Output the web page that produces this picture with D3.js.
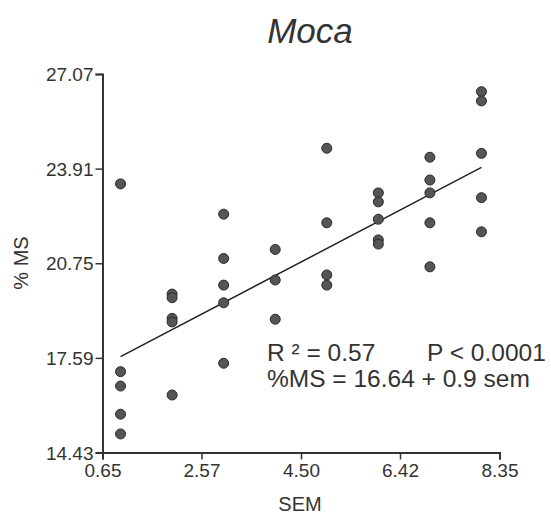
<!DOCTYPE html>
<html>
<head>
<meta charset="utf-8">
<script src="https://cdn.jsdelivr.net/npm/d3@7"></script>
<style>
  html, body { margin: 0; padding: 0; background: #fff; }
  svg { display: block; }
  text { font-family: "Liberation Sans", Arial, sans-serif; fill: #333; }
</style>
</head>
<body>
<svg id="chart" width="551" height="514"></svg>
<script>
// ---- data ----
const semValues = [1,1,1,1,1, 2,2,2,2,2, 3,3,3,3,3, 4,4,4, 5,5,5,5, 6,6,6,6,6, 7,7,7,7,7, 8,8,8,8,8];
const msValues  = [23.40,17.13,16.65,15.71,15.05,
                   19.72,19.60,18.91,18.79,16.35,
                   22.39,20.91,20.02,19.43,17.41,
                   21.21,20.19,18.88,
                   24.59,22.10,20.36,20.02,
                   23.10,22.80,22.22,21.53,21.39,
                   24.29,23.53,23.10,22.10,20.63,
                   26.48,26.17,24.42,22.94,21.80];
const fitX = [1, 8];
const fitY = [17.63, 23.95];
const xTicks = [0.65, 2.57, 4.50, 6.42, 8.35];
const yTicks = [14.43, 17.59, 20.75, 23.91, 27.07];
const titleText = "Moca";
const xLabel = "SEM";
const yLabel = "% MS";
const statR2 = "R \u00B2 = 0.57";
const statP = "P < 0.0001";
const statEq = "%MS = 16.64 + 0.9 sem";

// ---- chart ----
const svg = d3.select("#chart");
const x = d3.scaleLinear().domain([0.65, 8.35]).range([102.5, 499.5]);
const y = d3.scaleLinear().domain([14.43, 27.07]).range([452.5, 74]);

const xAxis = svg.append("g").attr("transform", `translate(0,${y(14.43)})`)
  .call(d3.axisBottom(x).tickValues(xTicks).tickFormat(d3.format(".2f")).tickSizeOuter(0).tickSize(7).tickPadding(4));
const yAxis = svg.append("g").attr("transform", `translate(${x(0.65)},0)`)
  .call(d3.axisLeft(y).tickValues(yTicks).tickFormat(d3.format(".2f")).tickSizeOuter(0).tickSize(7).tickPadding(2));

[xAxis, yAxis].forEach(g => {
  g.select(".domain").attr("stroke", "#333").attr("stroke-width", 2);
  g.selectAll(".tick line").attr("stroke", "#333").attr("stroke-width", 1.5);
  g.selectAll(".tick text").attr("font-size", 19).attr("fill", "#333")
    .attr("font-family", "'Liberation Sans', Arial, sans-serif");
});
yAxis.selectAll(".tick text").attr("dy", "0.35em");

// regression line
svg.append("line")
  .attr("x1", x(fitX[0])).attr("y1", y(fitY[0]))
  .attr("x2", x(fitX[1])).attr("y2", y(fitY[1]))
  .attr("stroke", "#222").attr("stroke-width", 1.5);

// points
svg.append("g").selectAll("circle")
  .data(semValues.map((s, i) => ({s, m: msValues[i]})))
  .join("circle")
  .attr("cx", d => x(d.s)).attr("cy", d => y(d.m)).attr("r", 5)
  .attr("fill", "#555").attr("stroke", "#2a2a2a").attr("stroke-width", 1);

// title
svg.append("text").attr("x", 310).attr("y", 43).attr("text-anchor", "middle")
  .attr("font-size", 35).attr("font-style", "italic").attr("fill", "#222").text(titleText);

// axis labels
svg.append("text").attr("x", 300).attr("y", 511).attr("text-anchor", "middle")
  .attr("font-size", 20).text(xLabel);
svg.append("text").attr("transform", "translate(28,263) rotate(-90)").attr("text-anchor", "middle")
  .attr("font-size", 20).text(yLabel);

// stats
const s1 = svg.append("text").attr("y", 361).attr("font-size", 24.5).attr("fill", "#222");
s1.append("tspan").attr("x", 267).text(statR2);
s1.append("tspan").attr("x", 427).text(statP);
svg.append("text").attr("x", 267).attr("y", 387).attr("font-size", 24.5)
  .attr("fill", "#222").text(statEq);
</script>
</body>
</html>
